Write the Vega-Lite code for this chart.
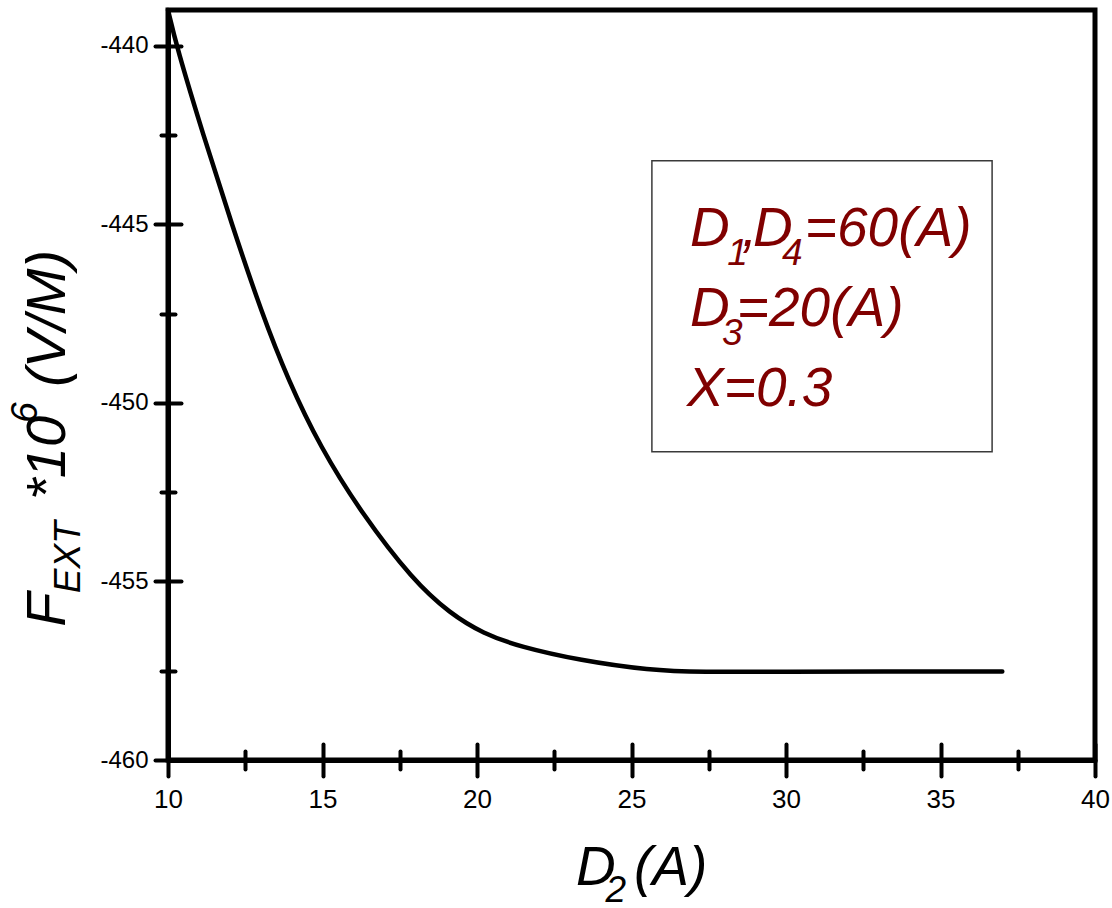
{
  "$schema": "https://vega.github.io/schema/vega-lite/v6.json",
  "width": 927,
  "height": 750,
  "autosize": {"type": "none"},
  "padding": {"left": 168, "top": 10, "right": 17, "bottom": 148},
  "background": "white",
  "config": {
    "view": {"stroke": "black", "strokeWidth": 5},
    "text": {"font": "Liberation Sans"}
  },
  "datasets": {
    "curve": [
      {"d2": 10.0, "f": -439.0},
      {"d2": 10.28, "f": -440.03},
      {"d2": 11.14, "f": -442.5},
      {"d2": 12.06, "f": -444.99},
      {"d2": 13.04, "f": -447.5},
      {"d2": 13.89, "f": -449.36},
      {"d2": 14.92, "f": -451.23},
      {"d2": 16.27, "f": -453.1},
      {"d2": 17.93, "f": -454.97},
      {"d2": 19.13, "f": -455.9},
      {"d2": 20.2, "f": -456.46},
      {"d2": 21.39, "f": -456.83},
      {"d2": 23.33, "f": -457.21},
      {"d2": 25.6, "f": -457.49},
      {"d2": 27.22, "f": -457.54},
      {"d2": 30.0, "f": -457.53},
      {"d2": 33.0, "f": -457.52},
      {"d2": 37.0, "f": -457.52}
    ],
    "notes": [
      {"t": "D", "d2": 26.89, "f": -445.62, "kind": "main", "group": "legend"},
      {"t": "1", "d2": 28.1, "f": -446.13, "kind": "small", "group": "legend"},
      {"t": ",", "d2": 28.58, "f": -445.62, "kind": "main", "group": "legend"},
      {"t": "D", "d2": 28.93, "f": -445.62, "kind": "main", "group": "legend"},
      {"t": "4", "d2": 29.87, "f": -446.13, "kind": "small", "group": "legend"},
      {"t": "=60(A)", "d2": 30.61, "f": -445.62, "kind": "main", "group": "legend"},
      {"t": "D", "d2": 26.89, "f": -447.86, "kind": "main", "group": "legend"},
      {"t": "3", "d2": 27.93, "f": -448.38, "kind": "small", "group": "legend"},
      {"t": "=20(A)", "d2": 28.41, "f": -447.86, "kind": "main", "group": "legend"},
      {"t": "X=0.3", "d2": 26.8, "f": -450.1, "kind": "main", "group": "legend"},
      {"t": "D", "d2": 23.2, "f": -463.5, "kind": "main", "group": "xtitle"},
      {"t": "2", "d2": 24.16, "f": -463.98, "kind": "small", "group": "xtitle"},
      {"t": "(A)", "d2": 25.08, "f": -463.5, "kind": "main", "group": "xtitle"},
      {"t": "F", "d2": 6.667, "f": -456.27, "kind": "main", "group": "ytitle"},
      {"t": "EXT", "d2": 7.152, "f": -455.33, "kind": "small", "group": "ytitle"},
      {"t": "*10", "d2": 6.667, "f": -452.72, "kind": "main", "group": "ytitle"},
      {"t": "6", "d2": 5.761, "f": -450.56, "kind": "small", "group": "ytitle"},
      {"t": "(V/M)", "d2": 6.667, "f": -449.55, "kind": "main", "group": "ytitle"}
    ]
  },
  "layer": [
    {
      "data": {"name": "curve"},
      "mark": {"type": "line", "color": "black", "strokeWidth": 4.5, "interpolate": "basis", "strokeCap": "round", "clip": false},
      "encoding": {
        "x": {
          "field": "d2", "type": "quantitative",
          "scale": {"domain": [10, 40], "nice": false, "zero": false},
          "axis": {
            "orient": "bottom",
            "values": [10, 12.5, 15, 17.5, 20, 22.5, 25, 27.5, 30, 32.5, 35, 37.5, 40],
            "labelExpr": "datum.value % 5 === 0 ? toString(datum.value) : ''",
            "tickSize": {"condition": {"test": "datum.value % 5 === 0", "value": 16}, "value": 9},
            "tickWidth": 4, "tickColor": "black", "tickCap": "round",
            "domainWidth": 5, "domainColor": "black",
            "labelFont": "Liberation Sans", "labelFontSize": 26, "labelColor": "black",
            "labelPadding": 10, "labelFlush": false, "labelOverlap": false,
            "grid": false, "title": null
          }
        },
        "y": {
          "field": "f", "type": "quantitative",
          "scale": {"domain": [-460, -439], "nice": false, "zero": false},
          "axis": {
            "orient": "left",
            "values": [-460, -457.5, -455, -452.5, -450, -447.5, -445, -442.5, -440],
            "labelExpr": "datum.value % 5 === 0 ? toString(datum.value) : ''",
            "tickSize": {"condition": {"test": "datum.value % 5 === 0", "value": 13}, "value": 7},
            "tickWidth": 4, "tickColor": "black", "tickCap": "round",
            "domainWidth": 5, "domainColor": "black",
            "labelFont": "Liberation Sans", "labelFontSize": 24, "labelColor": "black",
            "labelPadding": 7, "labelFlush": false, "labelOverlap": false,
            "grid": false, "title": null
          }
        }
      }
    },
    {
      "data": {"values": [{"box": "parameters"}]},
      "mark": {"type": "rect", "filled": false, "stroke": "#3a3a3a", "strokeWidth": 1.5},
      "encoding": {
        "x": {
          "datum": 25.66, "type": "quantitative",
          "scale": {"domain": [10, 40], "nice": false, "zero": false},
          "axis": {
            "orient": "bottom",
            "values": [10, 12.5, 15, 17.5, 20, 22.5, 25, 27.5, 30, 32.5, 35, 37.5, 40],
            "tickSize": {"condition": {"test": "datum.value % 5 === 0", "value": -16}, "value": -9},
            "tickWidth": 4, "tickColor": "black", "tickCap": "round",
            "domain": false, "labels": false, "grid": false, "title": null
          }
        },
        "x2": {"datum": 36.67},
        "y": {
          "datum": -443.22, "type": "quantitative",
          "scale": {"domain": [-460, -439], "nice": false, "zero": false},
          "axis": {
            "orient": "left",
            "values": [-460, -457.5, -455, -452.5, -450, -447.5, -445, -442.5, -440],
            "tickSize": {"condition": {"test": "datum.value % 5 === 0", "value": -13}, "value": -7},
            "tickWidth": 4, "tickColor": "black", "tickCap": "round",
            "domain": false, "labels": false, "grid": false, "title": null
          }
        },
        "y2": {"datum": -451.37}
      }
    },
    {
      "data": {"name": "notes"},
      "transform": [{"filter": "datum.group !== 'ytitle'"}],
      "mark": {"type": "text", "font": "Liberation Sans", "fontStyle": "italic", "align": "left", "baseline": "alphabetic"},
      "encoding": {
        "x": {"field": "d2", "type": "quantitative", "scale": {"domain": [10, 40], "nice": false, "zero": false}, "axis": null},
        "y": {"field": "f", "type": "quantitative", "scale": {"domain": [-460, -439], "nice": false, "zero": false}, "axis": null},
        "text": {"field": "t"},
        "size": {"condition": {"test": "datum.kind === 'small'", "value": 37}, "value": 55},
        "color": {"condition": {"test": "datum.group === 'legend'", "value": "#800000"}, "value": "black"}
      }
    },
    {
      "data": {"name": "notes"},
      "transform": [{"filter": "datum.group === 'ytitle'"}],
      "mark": {"type": "text", "font": "Liberation Sans", "fontStyle": "italic", "align": "left", "baseline": "alphabetic", "angle": 270},
      "encoding": {
        "x": {"field": "d2", "type": "quantitative", "scale": {"domain": [10, 40], "nice": false, "zero": false}, "axis": null},
        "y": {"field": "f", "type": "quantitative", "scale": {"domain": [-460, -439], "nice": false, "zero": false}, "axis": null},
        "text": {"field": "t"},
        "size": {"condition": {"test": "datum.kind === 'small'", "value": 37}, "value": 56},
        "color": {"value": "black"}
      }
    }
  ],
  "resolve": {"axis": {"x": "independent", "y": "independent"}}
}
